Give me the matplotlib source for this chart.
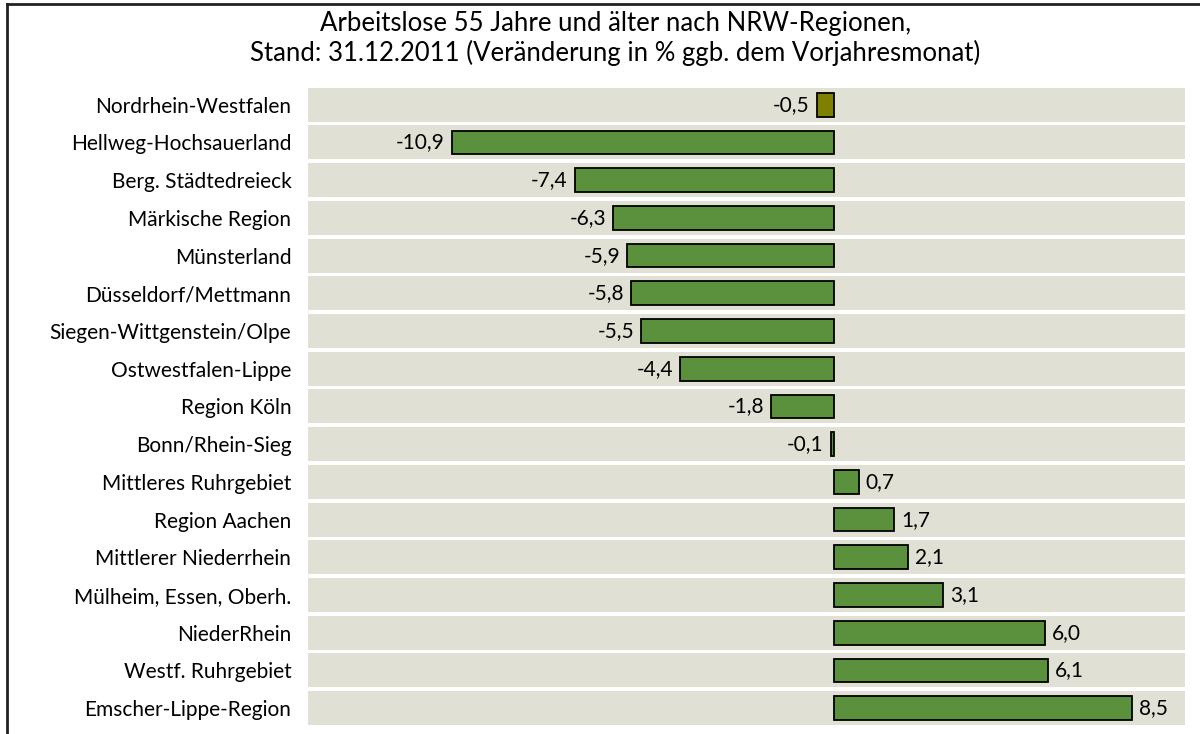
import matplotlib.pyplot as plt
from matplotlib.lines import Line2D

regions = [
    "Nordrhein-Westfalen", "Hellweg-Hochsauerland", "Berg. Städtedreieck",
    "Märkische Region", "Münsterland", "Düsseldorf/Mettmann",
    "Siegen-Wittgenstein/Olpe", "Ostwestfalen-Lippe", "Region Köln",
    "Bonn/Rhein-Sieg", "Mittleres Ruhrgebiet", "Region Aachen",
    "Mittlerer Niederrhein", "Mülheim, Essen, Oberh.", "NiederRhein",
    "Westf. Ruhrgebiet", "Emscher-Lippe-Region",
]
change = [-0.5, -10.9, -7.4, -6.3, -5.9, -5.8, -5.5, -4.4, -1.8, -0.1,
          0.7, 1.7, 2.1, 3.1, 6.0, 6.1, 8.5]

plt.rcParams['font.family'] = ['Lato', 'DejaVu Sans']

fig = plt.figure(figsize=(12, 7.34), dpi=100)
ax = fig.add_axes([0.2567, 0.0095, 0.7308, 0.8735])

n = len(regions)
ypos = list(range(n))
colors = ['#808000'] + ['#5b903c'] * (n - 1)

for y in ypos:
    ax.axhspan(y - 0.45, y + 0.45, color='#e0e0d4', zorder=0, lw=0)

ax.barh(ypos, change, height=0.63, color=colors, edgecolor='black',
        linewidth=1.3, zorder=2)

for y, v in zip(ypos, change):
    txt = f"{v:.1f}".replace('.', ',')
    if v < 0:
        ax.annotate(txt, (v, y), xytext=(-5, 0), textcoords='offset points',
                    ha='right', va='center', fontsize=15)
    else:
        ax.annotate(txt, (v, y), xytext=(5, 0), textcoords='offset points',
                    ha='left', va='center', fontsize=15)

ax.set_xlim(-15, 10)
ax.set_ylim(n - 0.5, -0.5)
ax.set_yticks(ypos)
ax.set_yticklabels(regions, fontsize=15)
ax.tick_params(axis='y', length=0, pad=12)
ax.set_xticks([])
for s in ax.spines.values():
    s.set_visible(False)

fig.text(0.513, 0.985, "Arbeitslose 55 Jahre und älter nach NRW-Regionen,\n"
         "Stand: 31.12.2011 (Veränderung in % ggb. dem Vorjahresmonat)",
         ha='center', va='top', fontsize=18.5, linespacing=1.2)

# frame lines on the top and left edge
fig.add_artist(Line2D([7 / 1200, 1], [1 - 4 / 734, 1 - 4 / 734],
                      transform=fig.transFigure, color='#222222', lw=2))
fig.add_artist(Line2D([7 / 1200, 7 / 1200], [0, 1 - 4 / 734],
                      transform=fig.transFigure, color='#222222', lw=2))

fig.savefig('out.png', dpi=100)
